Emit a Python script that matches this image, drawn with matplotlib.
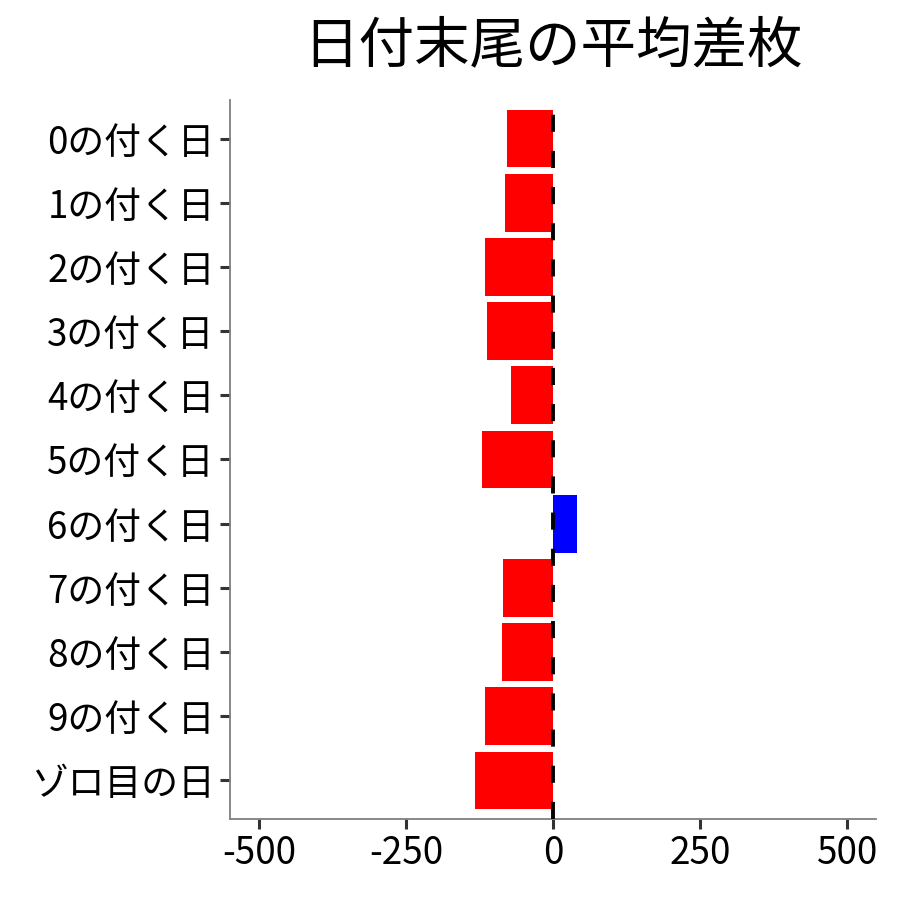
import matplotlib
matplotlib.use('Agg')
import matplotlib.pyplot as plt

plt.rcParams['font.family'] = ['Noto Sans CJK JP', 'DejaVu Sans']

# data
categories = ['0の付く日', '1の付く日', '2の付く日', '3の付く日', '4の付く日',
              '5の付く日', '6の付く日', '7の付く日', '8の付く日', '9の付く日',
              'ゾロ目の日']
values = [-78, -82, -116, -112, -71, -121, 40, -85, -87, -116, -133]
xticks = [-500, -250, 0, 250, 500]

colors = ['#0000FF' if v > 0 else '#FF0000' for v in values]
ypos = list(range(len(categories)))

fig = plt.figure(figsize=(9, 9), dpi=100)
ax = fig.add_axes([230 / 900, 1 - 819 / 900, 646 / 900, 719 / 900])

ax.barh(ypos, values, height=0.9, color=colors, zorder=2)
# dash lengths are in units of the line width
ax.axvline(0, color='black', linewidth=2.8, zorder=3,
           linestyle=(0, (4.4, 4.9)))

ax.set_xlim(-549, 549)
ax.set_ylim(len(categories) - 0.4, -0.6)
ax.set_yticks(ypos)
ax.set_yticklabels(categories)
ax.set_xticks(xticks)
ax.set_xticklabels([str(t) for t in xticks])

ax.tick_params(axis='both', labelsize=26.5, colors='#333333', labelcolor='black',
               length=7, width=2.2, pad=4)
for side in ['top', 'right']:
  ax.spines[side].set_visible(False)
for side in ['left', 'bottom']:
  ax.spines[side].set_color('#7f7f7f')
  ax.spines[side].set_linewidth(1.3)

ax.set_title('日付末尾の平均差枚', fontsize=40, pad=27)

fig.savefig('out.png', dpi=100)
